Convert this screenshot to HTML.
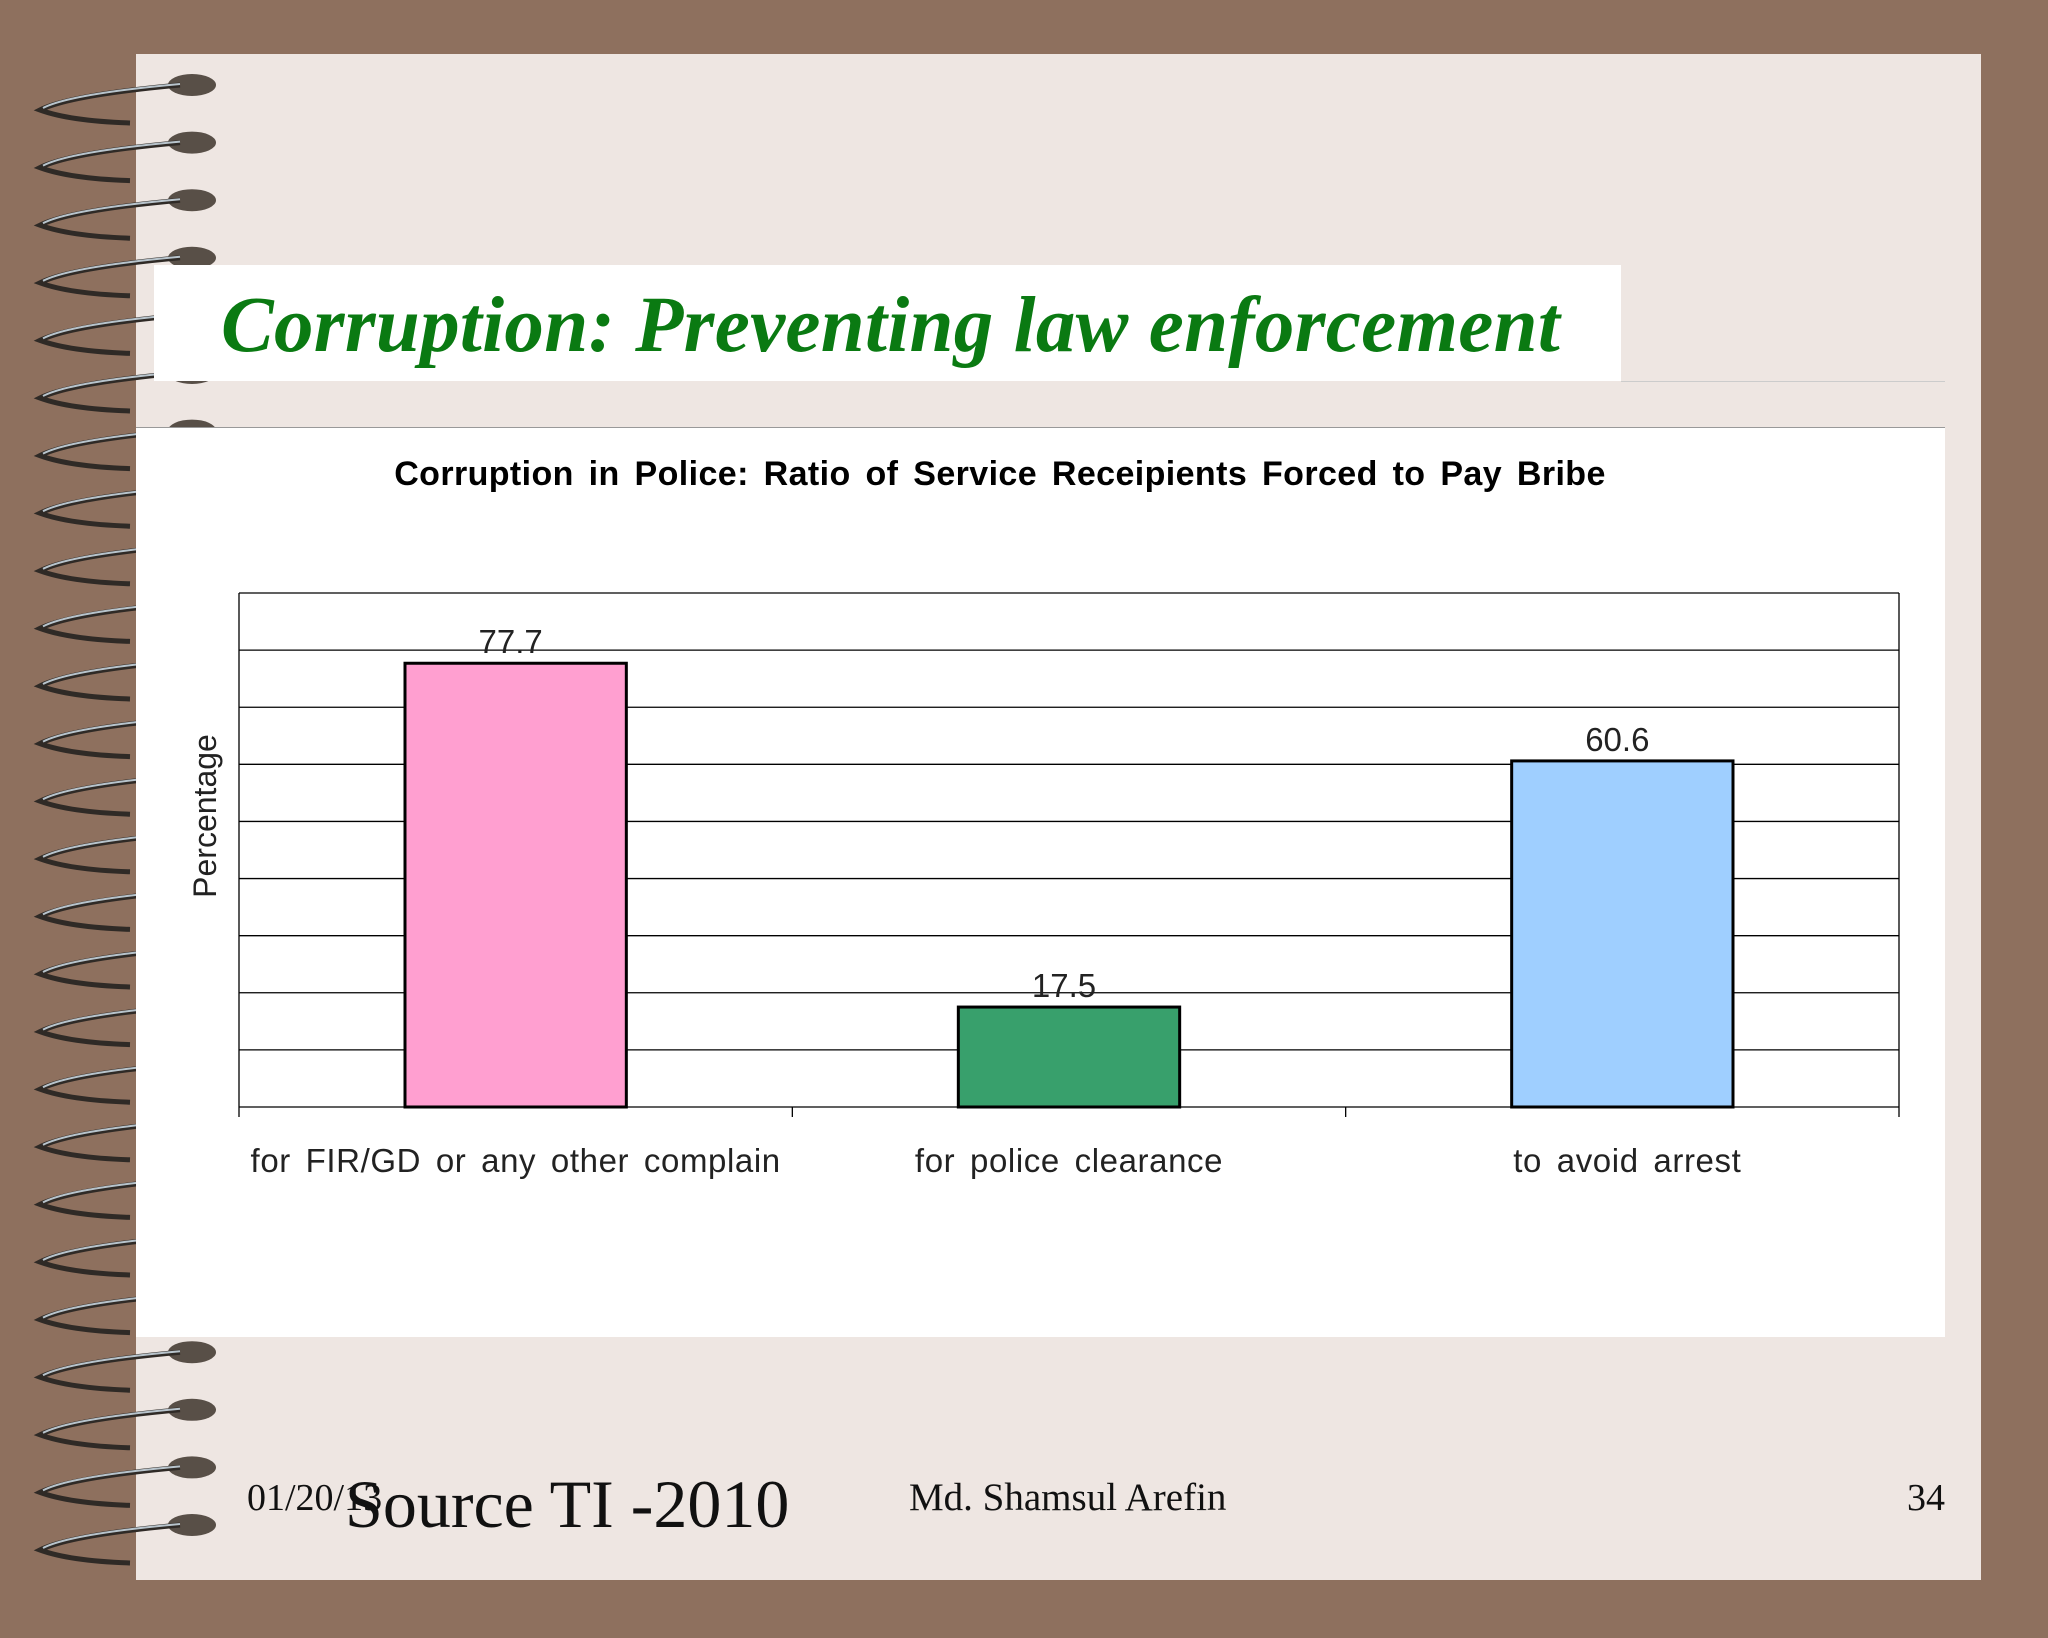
<!DOCTYPE html>
<html><head><meta charset="utf-8"><style>
html,body{margin:0;padding:0}
body{width:2048px;height:1638px;background:#8E705E;position:relative;overflow:hidden;font-family:"Liberation Sans",sans-serif}
.abs{position:absolute}
</style></head><body>
<div class="abs" style="left:136px;top:54px;width:1845px;height:1526px;background:#EEE6E2"></div>
<svg class="abs" style="left:0;top:0" width="260" height="1638" id="rings"></svg>
<div class="abs" style="left:154px;top:265px;width:1467px;height:116px;background:#fff"></div>
<div class="abs" style="left:221px;top:281px;font-family:'Liberation Serif',serif;font-style:italic;font-weight:bold;font-size:79px;color:#0A7A12;white-space:nowrap;letter-spacing:0.3px">Corruption: Preventing law enforcement</div>
<div class="abs" style="left:1621px;top:381px;width:324px;height:1px;background:#ccc"></div>
<div class="abs" style="left:136px;top:427px;width:1809px;height:909px;background:#fff;border-top:1px solid #999"></div>
<svg class="abs" id="chart" style="left:0;top:0" width="2048" height="1638"></svg>
<div class="abs" style="left:247px;top:1476px;font-family:'Liberation Serif',serif;font-size:38px;color:#111">01/20/13</div>
<div class="abs" style="left:345px;top:1465px;font-family:'Liberation Serif',serif;font-size:68px;color:#111">Source TI -2010</div>
<div class="abs" style="left:909px;top:1475px;font-family:'Liberation Serif',serif;font-size:39px;color:#111">Md. Shamsul Arefin</div>
<div class="abs" style="left:1907px;top:1476px;font-family:'Liberation Serif',serif;font-size:38px;color:#111">34</div>
<script>
const NS="http://www.w3.org/2000/svg";
function mk(p,t,a){const e=document.createElementNS(NS,t);for(const k in a)e.setAttribute(k,a[k]);p.appendChild(e);return e;}
const rs=document.getElementById('rings');
for(let i=0;i<26;i++){
  const y=85+i*57.6;
  const g=mk(rs,'g',{});
  
  
  mk(g,'ellipse',{cx:192,cy:y,rx:24,ry:11,fill:'#3d342c',opacity:0.85});
  mk(g,'path',{d:`M180 ${y} Q70 ${y+10} 40 ${y+25} Q70 ${y+36} 130 ${y+38}`,fill:'none',stroke:'#2f2a26','stroke-width':5});
  mk(g,'path',{d:`M180 ${y-1} Q70 ${y+9} 43 ${y+23}`,fill:'none',stroke:'#b8c4cc','stroke-width':2});
}
const categories=["for FIR/GD or any other complain","for police clearance","to avoid arrest"];
const values=[77.7,17.5,60.6];
const valueLabels=["77.7","17.5","60.6"];
const colors=["#FF9FD0","#38A06C","#9FCFFF"];
const yMax=90, yStep=10;
const ch=document.getElementById('chart');
const L=239,R=1899,T=593,B=1107;
const ys=v=>B-(v/yMax)*(B-T);
const bw=(R-L)/categories.length;
let t=mk(ch,'text',{x:1000,y:485,'text-anchor':'middle','font-size':34,'font-weight':'bold',fill:'#000','word-spacing':'5','letter-spacing':'0.4'});
t.textContent="Corruption in Police: Ratio of Service Receipients Forced to Pay Bribe";


for(let v=0;v<=yMax;v+=yStep){
  const l=mk(ch,'line',{x1:L,x2:R,y1:ys(v),y2:ys(v),stroke:'#000','stroke-width':1.3});
  
  
}
mk(ch,'line',{x1:L,x2:L,y1:T,y2:B,stroke:'#000','stroke-width':1.3});
mk(ch,'line',{x1:R,x2:R,y1:T,y2:B,stroke:'#000','stroke-width':1.3});
for(let i=0;i<=categories.length;i++){
  const x=L+i*bw;
  const tk=mk(ch,'line',{x1:x,x2:x,y1:B,y2:B+10,stroke:'#000','stroke-width':1.3});
  
  
}
categories.forEach((c,i)=>{
  const cx=L+bw*(i+0.5), w=bw*0.4;
  const r=mk(ch,'rect',{x:cx-w/2,y:ys(values[i]),width:w,height:B-ys(values[i]),fill:colors[i],stroke:'#000','stroke-width':3});
  
  
  const vl=mk(ch,'text',{x:cx-5,y:ys(values[i])-10,'text-anchor':'middle','font-size':33,fill:'#222'});
  vl.textContent=valueLabels[i];
  
  
  const xl=mk(ch,'text',{x:cx+(i==2?5:0),y:1172,'text-anchor':'middle','font-size':33,fill:'#222','word-spacing':'5','letter-spacing':'0.6'});
  xl.textContent=c;
  
  
});
const yt=mk(ch,'text',{x:0,y:0,'text-anchor':'middle','font-size':32,fill:'#222',transform:'translate(216,816) rotate(-90)'});
yt.textContent="Percentage";


</script>
</body></html>
